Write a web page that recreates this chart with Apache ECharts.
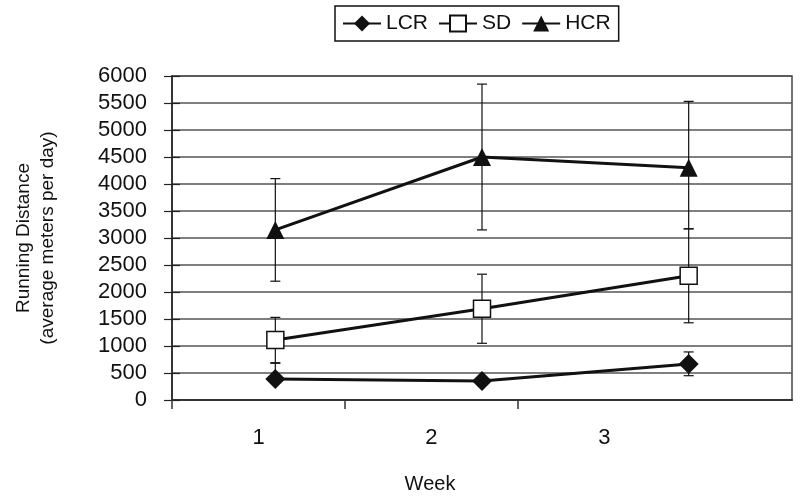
<!DOCTYPE html>
<html>
<head>
<meta charset="utf-8">
<script src="https://cdn.jsdelivr.net/npm/echarts@6/dist/echarts.min.js"></script>
<style>
  html, body { margin: 0; padding: 0; background: #fff; }
  #chart { width: 800px; height: 497px; }
</style>
</head>
<body>
<div id="chart"></div>
<script>
// weeks (categories) and tick positions of the visible week axis
const weeks = ['1', '2', '3']
const weekLabelValues = [1, 2, 3]
const weekTickValues = [0.5, 1.5, 2.5]

// means and error bar ends
const lcrMean = [390, 350, 665]
const lcrLow = [340, 300, 450]
const lcrHigh = [690, 400, 890]

const sdMean = [1110, 1690, 2300]
const sdLow = [680, 1050, 1430]
const sdHigh = [1530, 2330, 3170]

const hcrMean = [3150, 4500, 4300]
const hcrLow = [2200, 3150, 3170]
const hcrHigh = [4100, 5850, 5530]

const FONT = 'Liberation Sans'
const INK = '#111'

const chart = echarts.init(document.getElementById('chart'))

// error bars: vertical line with short caps
const errorData = (low, high) => low.map((v, i) => [i, v, high[i]])
const renderError = function (params, api) {
  const x = api.value(0)
  const lo = api.coord([x, api.value(1)])
  const hi = api.coord([x, api.value(2)])
  const w = 5
  const style = { stroke: INK, lineWidth: 1.2 }
  return {
    type: 'group',
    children: [
      { type: 'line', shape: { x1: lo[0], y1: lo[1], x2: hi[0], y2: hi[1] }, style },
      { type: 'line', shape: { x1: lo[0] - w, y1: lo[1], x2: lo[0] + w, y2: lo[1] }, style },
      { type: 'line', shape: { x1: hi[0] - w, y1: hi[1], x2: hi[0] + w, y2: hi[1] }, style },
    ],
  }
}

const lineSeries = (name, data, symbol, size, fill) => ({
  name: name,
  type: 'line',
  xAxisIndex: 1,
  data: data,
  symbol: symbol,
  symbolSize: size,
  showAllSymbol: true,
  z: 5,
  lineStyle: { color: INK, width: 3 },
  itemStyle: { color: fill, borderColor: INK, borderWidth: fill === '#fff' ? 1.5 : 0 },
  emphasis: { disabled: true },
})

const errorSeries = (low, high) => ({
  type: 'custom',
  xAxisIndex: 1,
  data: errorData(low, high),
  renderItem: renderError,
  z: 3,
  silent: true,
})

const option = {
  animation: false,
  backgroundColor: '#fff',
  textStyle: { fontFamily: FONT, color: INK },
  grid: {
    left: 172,
    right: 8,
    top: 76,
    bottom: 97,
    show: true,
    borderColor: '#444',
    borderWidth: 1.5,
  },
  legend: {
    left: 335,
    top: 6,
    padding: [7, 8, 7, 7],
    itemGap: 10,
    itemWidth: 38,
    itemHeight: 20,
    borderColor: INK,
    borderWidth: 1.5,
    textStyle: { fontFamily: FONT, fontSize: 21, color: INK },
    data: ['LCR', 'SD', 'HCR'],
  },
  xAxis: [
    {
      // visible week axis (labels sit between the ticks)
      type: 'value',
      min: 0.5,
      max: 4.084,
      splitLine: { show: false },
      axisLine: { lineStyle: { color: '#333', width: 2 } },
      axisTick: { customValues: weekTickValues, length: 9, lineStyle: { color: '#333', width: 1.5 } },
      axisLabel: {
        customValues: weekLabelValues,
        margin: 27,
        fontSize: 22,
        fontFamily: FONT,
        color: INK,
      },
    },
    {
      // data axis
      type: 'category',
      data: weeks,
      boundaryGap: true,
      show: false,
    },
  ],
  yAxis: [
    {
      type: 'value',
      min: 0,
      max: 6000,
      interval: 500,
      name: 'Running Distance\n(average meters per day)',
      nameLocation: 'middle',
      nameRotate: 90,
      nameGap: 112,
      nameTextStyle: { fontFamily: FONT, fontSize: 19, lineHeight: 24, color: INK },
      axisLine: { show: true, lineStyle: { color: '#222', width: 1.5 } },
      axisTick: { show: true, length: 8, lineStyle: { color: '#222', width: 1.2 } },
      axisLabel: {
        margin: 25,
        fontSize: 22,
        fontFamily: FONT,
        color: INK,
        formatter: (v) => String(v),
      },
      splitLine: { lineStyle: { color: '#555', width: 1.5 } },
    },
    {
      type: 'value',
      min: 0,
      max: 6000,
      interval: 500,
      position: 'left',
      axisLine: { show: false },
      axisTick: { show: true, inside: true, length: 8, lineStyle: { color: '#222', width: 1.2 } },
      axisLabel: { show: false },
      splitLine: { show: false },
    },
  ],
  graphic: [
    {
      type: 'text',
      x: 430,
      y: 484,
      style: {
        text: 'Week',
        font: '20px "Liberation Sans"',
        fill: INK,
        textAlign: 'center',
        textVerticalAlign: 'middle',
      },
    },
  ],
  series: [
    errorSeries(lcrLow, lcrHigh),
    errorSeries(sdLow, sdHigh),
    errorSeries(hcrLow, hcrHigh),
    lineSeries('LCR', lcrMean, 'diamond', 20, INK),
    lineSeries('SD', sdMean, 'rect', 17, '#fff'),
    lineSeries('HCR', hcrMean, 'triangle', 18, INK),
  ],
}

option && chart.setOption(option)
</script>
</body>
</html>
